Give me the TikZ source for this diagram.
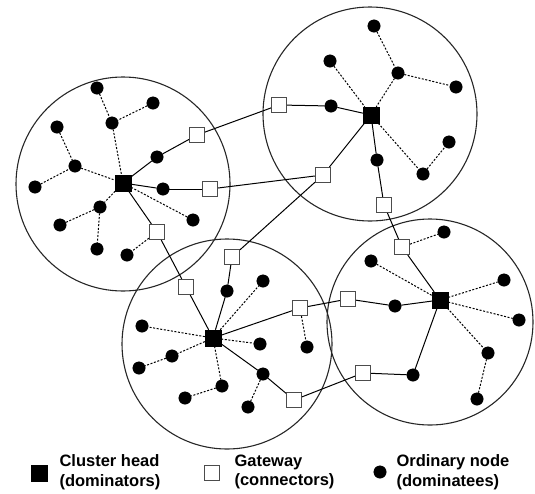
\documentclass[tikz,border=0pt]{standalone}
\usepackage{fontspec}
\setmainfont{Liberation Sans}
\begin{document}
\begin{tikzpicture}[x=1pt, y=-1pt,
    head/.style = {draw, fill, rectangle, minimum size=16pt, inner sep=0pt},
    gate/.style = {draw=black!70, fill=white, rectangle, minimum size=15pt, inner sep=0pt, line width=1.1pt},
    dot/.style = {draw, fill, circle, minimum size=12.5pt, inner sep=0pt},
    link/.style = {line width=1pt},
    dots/.style = {line width=1pt, dash pattern=on 2pt off 1.6pt},
    rim/.style = {line width=1.1pt, black!85},
    legend/.style = {font=\bfseries\fontsize{16.5}{19.5}\selectfont, align=left, anchor=west}]
  \useasboundingbox (0,0) rectangle (535,493);
  % clusters
  \draw[rim] (123,184) circle (107);
  \draw[rim] (370,114) circle (107);
  \draw[rim] (227,344) circle (105);
  \draw[rim] (430,322) circle (103);
  % cluster heads
  \foreach \n/\x/\y in {h1/123/183, h2/371/115, h3/213/338, h4/440/300}
    \node[head] (\n) at (\x,\y) {};
  % gateways
  \foreach \n/\x/\y in {g1/197/135, g2/210/189, g3/157/232, g4/279/105, g5/323/175, g6/384/205,
      g7/186/287, g8/232/257, g9/300/308, g10/294/400, g11/402/247, g12/348/299, g13/363/373}
    \node[gate] (\n) at (\x,\y) {};
  % ordinary nodes
  \foreach \n/\x/\y in {a1/97/88, a2/153/103, a3/112/123, a4/57/127, a5/157/157, a6/75/166, a7/35/187,
      a8/163/189, a9/100/207, a10/193/220, a11/60/225, a12/97/249, a13/127/255,
      b1/374/26, b2/330/61, b3/398/73, b4/456/87, b5/331/106, b6/449/142, b7/377/160, b8/423/174,
      c1/263/281, c2/227/291, c3/142/326, c4/260/344, c5/307/347, c6/172/356, c7/139/368,
      c8/263/374, c9/222/386, c10/185/398, c11/248/407,
      d1/444/232, d2/371/261, d3/504/280, d4/395/306, d5/519/320, d6/488/353, d7/413/375, d8/477/399}
    \node[dot] (\n) at (\x,\y) {};
  % backbone links
  \foreach \a/\b in {h1/a5, a5/g1, g1/g4, g4/b5, b5/h2, h1/a8, a8/g2, g2/g5, g5/h2,
      h1/g3, g3/g7, g7/h3, g5/g8, g8/c2, c2/h3, h2/b7, b7/g6, g6/g11, g11/h4,
      h3/g9, g9/g12, g12/d4, d4/h4, h3/c8, c8/g10, g10/g13, g13/d7, d7/h4}
    \draw[link] (\a) -- (\b);
  % member links
  \foreach \a/\b in {a1/a3, a2/a3, a3/h1, a4/a6, a6/h1, a7/a6, h1/a10, h1/a9, a9/a11, a9/a12, g3/a13,
      b1/b3, b3/b4, b3/h2, b2/h2, h2/b8, b8/b6,
      h3/c1, g9/c5, h3/c3, h3/c6, c6/c7, h3/c4, h3/c9, c9/c10, c8/c11,
      g11/d1, d2/h4, h4/d3, h4/d5, h4/d6, d6/d8}
    \draw[dots] (\a) -- (\b);
  % legend
  \node[head] (lh) at (39,473) {};
  \node[legend] (lht) at (56,472) {Cluster head\\(dominators)};
  \node[gate] (lg) at (212,473) {};
  \node[legend] (lgt) at (231,472) {Gateway\\(connectors)};
  \node[dot] (ld) at (380,472) {};
  \node[legend] (ldt) at (393,472) {Ordinary node\\(dominatees)};
\end{tikzpicture}
\end{document}
